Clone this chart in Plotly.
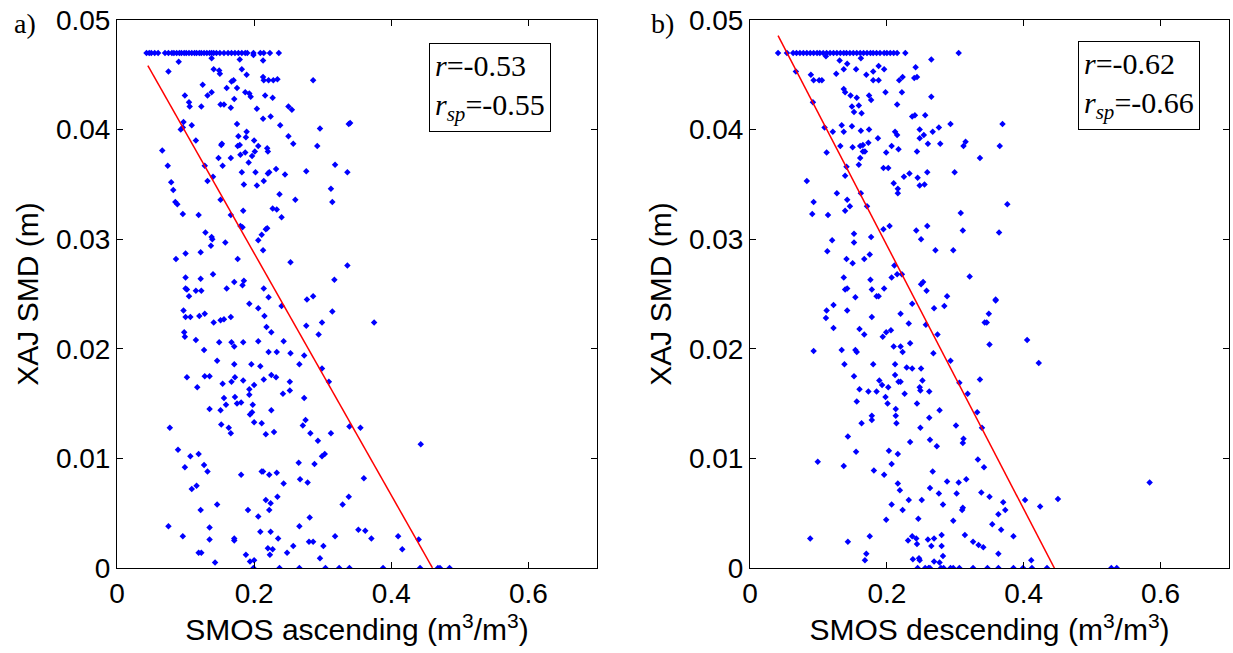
import plotly.graph_objects as go

# ---------------- data ----------------
SMD_CAP = 0.047  # model SMD upper bound (m)

# a) SMOS ascending vs XAJ SMD
asc_cap_x = [0.043, 0.047, 0.050, 0.055, 0.060, 0.070, 0.075, 0.080, 0.083, 0.087, 0.091, 0.094,
             0.098, 0.101, 0.105, 0.109, 0.113, 0.116, 0.120, 0.123, 0.127, 0.131, 0.135, 0.138,
             0.141, 0.145, 0.150, 0.156, 0.162, 0.167, 0.172, 0.177, 0.182, 0.187, 0.190, 0.199,
             0.209, 0.214, 0.223, 0.236]
asc_zero_x = [0.199, 0.237, 0.266, 0.304, 0.324, 0.339, 0.388, 0.442, 0.468, 0.471, 0.485]
asc_upper = [
    (0.090, 0.0462), (0.075, 0.0453), (0.141, 0.0455), (0.149, 0.0454), (0.150, 0.0451), (0.182, 0.0455),
    (0.189, 0.0450), (0.138, 0.0465), (0.179, 0.0464), (0.213, 0.0463), (0.199, 0.0468), (0.213, 0.0448),
    (0.214, 0.0445), (0.221, 0.0445), (0.228, 0.0445), (0.234, 0.0446), (0.286, 0.0445), (0.125, 0.0441),
    (0.167, 0.0444), (0.170, 0.0445), (0.160, 0.0438), (0.175, 0.0438), (0.187, 0.0434), (0.193, 0.0433),
    (0.195, 0.0430), (0.099, 0.0431), (0.105, 0.0425), (0.106, 0.0421), (0.123, 0.0421), (0.132, 0.0431),
    (0.138, 0.0434), (0.151, 0.0423), (0.156, 0.0423), (0.166, 0.0420), (0.171, 0.0428), (0.216, 0.0431),
    (0.227, 0.0429), (0.204, 0.0419), (0.213, 0.0410), (0.224, 0.0412), (0.250, 0.0421), (0.255, 0.0418),
    (0.238, 0.0404), (0.097, 0.0407), (0.096, 0.0402), (0.093, 0.0400), (0.109, 0.0404), (0.175, 0.0405),
    (0.115, 0.0390), (0.177, 0.0394), (0.189, 0.0398), (0.188, 0.0393), (0.176, 0.0385), (0.179, 0.0386),
    (0.153, 0.0387), (0.152, 0.0386), (0.200, 0.0390), (0.206, 0.0385), (0.066, 0.0381), (0.074, 0.0367),
    (0.148, 0.0374), (0.154, 0.0367), (0.166, 0.0374), (0.180, 0.0377), (0.187, 0.0379), (0.192, 0.0370),
    (0.197, 0.0376), (0.201, 0.0380), (0.219, 0.0383), (0.220, 0.0380), (0.182, 0.0361), (0.202, 0.0361),
    (0.222, 0.0361), (0.232, 0.0364), (0.245, 0.0359), (0.276, 0.0362), (0.292, 0.0385), (0.296, 0.0401),
    (0.250, 0.0394), (0.257, 0.0387), (0.318, 0.0368), (0.336, 0.0361), (0.338, 0.0405), (0.340, 0.0406),
    (0.079, 0.0352), (0.082, 0.0345), (0.085, 0.0334), (0.088, 0.0332), (0.096, 0.0323), (0.119, 0.0322),
    (0.128, 0.0367), (0.132, 0.0353), (0.140, 0.0357), (0.151, 0.0336), (0.185, 0.0350), (0.204, 0.0349),
    (0.214, 0.0353), (0.220, 0.0360), (0.237, 0.0341), (0.260, 0.0336), (0.312, 0.0346), (0.314, 0.0334),
    (0.227, 0.0328), (0.233, 0.0327), (0.240, 0.0320), (0.184, 0.0326), (0.166, 0.0322), (0.180, 0.0312),
    (0.183, 0.0311), (0.129, 0.0306), (0.138, 0.0302), (0.139, 0.0300), (0.137, 0.0294), (0.158, 0.0297),
    (0.206, 0.0299), (0.211, 0.0304), (0.217, 0.0309), (0.219, 0.0310), (0.213, 0.0290), (0.086, 0.0282),
    (0.100, 0.0287), (0.122, 0.0288), (0.176, 0.0282), (0.253, 0.0279), (0.336, 0.0276), (0.100, 0.0265),
    (0.122, 0.0264), (0.140, 0.0268), (0.171, 0.0261), (0.185, 0.0262), (0.183, 0.0258), (0.160, 0.0255),
    (0.100, 0.0255), (0.102, 0.0254), (0.105, 0.0248), (0.115, 0.0253), (0.123, 0.0253), (0.214, 0.0255),
    (0.221, 0.0247), (0.277, 0.0245), (0.286, 0.0248), (0.317, 0.0263),
]
asc_lower = [
    (0.240, 0.0239), (0.193, 0.0241), (0.206, 0.0237), (0.097, 0.0235), (0.100, 0.0229), (0.107, 0.0229),
    (0.120, 0.0230), (0.128, 0.0232), (0.141, 0.0224), (0.151, 0.0226), (0.156, 0.0227), (0.166, 0.0229),
    (0.215, 0.0230), (0.218, 0.0220), (0.225, 0.0215), (0.276, 0.0221), (0.299, 0.0224), (0.314, 0.0234),
    (0.294, 0.0213), (0.375, 0.0224), (0.098, 0.0215), (0.099, 0.0211), (0.115, 0.0208), (0.127, 0.0199),
    (0.149, 0.0206), (0.167, 0.0206), (0.171, 0.0202), (0.184, 0.0206), (0.206, 0.0207), (0.221, 0.0197),
    (0.233, 0.0197), (0.243, 0.0207), (0.253, 0.0196), (0.273, 0.0194), (0.266, 0.0186), (0.299, 0.0182),
    (0.309, 0.0170), (0.146, 0.0189), (0.171, 0.0186), (0.196, 0.0186), (0.209, 0.0184), (0.102, 0.0174),
    (0.128, 0.0175), (0.135, 0.0175), (0.154, 0.0168), (0.167, 0.0170), (0.172, 0.0174), (0.184, 0.0171),
    (0.214, 0.0172), (0.225, 0.0176), (0.232, 0.0174), (0.252, 0.0170), (0.252, 0.0162), (0.242, 0.0159),
    (0.200, 0.0167), (0.193, 0.0163), (0.193, 0.0158), (0.117, 0.0165), (0.156, 0.0155), (0.159, 0.0149),
    (0.172, 0.0156), (0.175, 0.0150), (0.181, 0.0151), (0.198, 0.0149), (0.197, 0.0142), (0.194, 0.0140),
    (0.273, 0.0155), (0.275, 0.0135), (0.271, 0.0130), (0.135, 0.0145), (0.151, 0.0144), (0.225, 0.0144),
    (0.200, 0.0133), (0.211, 0.0132), (0.152, 0.0131), (0.163, 0.0128), (0.166, 0.0123), (0.217, 0.0122),
    (0.229, 0.0124), (0.282, 0.0123), (0.293, 0.0116), (0.312, 0.0123), (0.339, 0.0129), (0.355, 0.0128),
    (0.443, 0.0113), (0.077, 0.0128), (0.089, 0.0108), (0.107, 0.0102), (0.119, 0.0104), (0.099, 0.0092),
    (0.127, 0.0094), (0.132, 0.0088), (0.109, 0.0072), (0.116, 0.0075), (0.122, 0.0053), (0.146, 0.0058),
    (0.181, 0.0085), (0.211, 0.0088), (0.213, 0.0088), (0.222, 0.0085), (0.233, 0.0087), (0.243, 0.0077),
    (0.234, 0.0065), (0.217, 0.0062), (0.224, 0.0059), (0.222, 0.0053), (0.191, 0.0053), (0.206, 0.0047),
    (0.265, 0.0096), (0.267, 0.0081), (0.278, 0.0078), (0.288, 0.0095), (0.299, 0.0102), (0.303, 0.0104),
    (0.281, 0.0046), (0.266, 0.0038), (0.329, 0.0058), (0.338, 0.0065), (0.360, 0.0082), (0.075, 0.0038),
    (0.096, 0.0029), (0.135, 0.0037), (0.135, 0.0026), (0.143, 0.0005), (0.119, 0.0014), (0.123, 0.0014),
    (0.171, 0.0027), (0.171, 0.0025), (0.188, 0.0012), (0.194, 0.0006), (0.200, 0.0007), (0.209, 0.0033),
    (0.224, 0.0033), (0.235, 0.0027), (0.220, 0.0018), (0.227, 0.0017), (0.223, 0.0012), (0.248, 0.0014),
    (0.257, 0.0020), (0.280, 0.0024), (0.286, 0.0024), (0.301, 0.0020), (0.296, 0.0009), (0.318, 0.0029),
    (0.352, 0.0035), (0.362, 0.0034), (0.371, 0.0027), (0.410, 0.0029), (0.416, 0.0017), (0.440, 0.0026),
]
asc_fit_intercept = 0.0508
asc_fit_slope = -0.1104
asc_fit_xrange = [0.045, 0.460]
asc_r, asc_rsp = "-0.53", "-0.55"

# b) SMOS descending vs XAJ SMD
desc_cap_x = [0.041, 0.054, 0.063, 0.068, 0.073, 0.078, 0.083, 0.088, 0.093, 0.098, 0.102, 0.107,
              0.112, 0.117, 0.122, 0.127, 0.132, 0.137, 0.141, 0.146, 0.151, 0.156, 0.161, 0.166,
              0.171, 0.176, 0.180, 0.185, 0.190, 0.196, 0.200, 0.205, 0.210, 0.215, 0.227, 0.305]
desc_zero_x = [0.245, 0.256, 0.261, 0.263, 0.279, 0.283, 0.293, 0.297, 0.306, 0.326, 0.347, 0.363,
               0.385, 0.399, 0.412, 0.434, 0.528, 0.536]
desc_upper = [
    (0.111, 0.0467), (0.131, 0.0463), (0.162, 0.0465), (0.142, 0.0460), (0.137, 0.0455), (0.155, 0.0455),
    (0.188, 0.0458), (0.196, 0.0455), (0.180, 0.0453), (0.242, 0.0457), (0.265, 0.0464), (0.067, 0.0453),
    (0.089, 0.0450), (0.093, 0.0445), (0.101, 0.0445), (0.105, 0.0445), (0.126, 0.0451), (0.170, 0.0450),
    (0.180, 0.0445), (0.188, 0.0445), (0.218, 0.0445), (0.223, 0.0448), (0.240, 0.0447), (0.244, 0.0448),
    (0.137, 0.0437), (0.139, 0.0434), (0.147, 0.0431), (0.156, 0.0429), (0.174, 0.0431), (0.177, 0.0427),
    (0.198, 0.0434), (0.222, 0.0434), (0.265, 0.0430), (0.092, 0.0425), (0.149, 0.0421), (0.159, 0.0422),
    (0.152, 0.0416), (0.163, 0.0415), (0.215, 0.0423), (0.237, 0.0412), (0.241, 0.0413), (0.256, 0.0413),
    (0.109, 0.0402), (0.121, 0.0398), (0.134, 0.0404), (0.137, 0.0398), (0.149, 0.0403), (0.162, 0.0399),
    (0.174, 0.0400), (0.187, 0.0392), (0.212, 0.0398), (0.215, 0.0395), (0.248, 0.0400), (0.254, 0.0395),
    (0.267, 0.0398), (0.276, 0.0402), (0.293, 0.0405), (0.369, 0.0405), (0.132, 0.0385), (0.150, 0.0384),
    (0.161, 0.0385), (0.165, 0.0386), (0.173, 0.0388), (0.165, 0.0380), (0.168, 0.0380), (0.207, 0.0385),
    (0.217, 0.0382), (0.199, 0.0379), (0.244, 0.0380), (0.248, 0.0392), (0.260, 0.0387), (0.278, 0.0387),
    (0.312, 0.0385), (0.315, 0.0389), (0.365, 0.0385), (0.336, 0.0374), (0.112, 0.0379), (0.161, 0.0374),
    (0.159, 0.0368), (0.141, 0.0366), (0.139, 0.0358), (0.195, 0.0365), (0.202, 0.0365), (0.210, 0.0351),
    (0.216, 0.0346), (0.216, 0.0342), (0.225, 0.0357), (0.233, 0.0360), (0.245, 0.0356), (0.248, 0.0349),
    (0.255, 0.0350), (0.259, 0.0361), (0.299, 0.0361), (0.083, 0.0353), (0.093, 0.0334), (0.091, 0.0323),
    (0.114, 0.0322), (0.127, 0.0342), (0.142, 0.0336), (0.146, 0.0330), (0.139, 0.0326), (0.162, 0.0342),
    (0.171, 0.0330), (0.308, 0.0324), (0.311, 0.0308), (0.376, 0.0332), (0.364, 0.0306), (0.195, 0.0309),
    (0.204, 0.0312), (0.152, 0.0305), (0.152, 0.0297), (0.177, 0.0302), (0.120, 0.0299), (0.113, 0.0289),
    (0.243, 0.0308), (0.250, 0.0300), (0.259, 0.0312), (0.271, 0.0290), (0.297, 0.0290), (0.175, 0.0286),
    (0.141, 0.0282), (0.150, 0.0278), (0.167, 0.0282), (0.321, 0.0266), (0.211, 0.0276), (0.215, 0.0268),
    (0.222, 0.0268), (0.207, 0.0265), (0.137, 0.0265), (0.176, 0.0263), (0.250, 0.0259), (0.253, 0.0261),
    (0.258, 0.0253), (0.139, 0.0254), (0.142, 0.0255), (0.178, 0.0254), (0.196, 0.0255), (0.154, 0.0247),
    (0.188, 0.0248), (0.185, 0.0248), (0.288, 0.0248), (0.359, 0.0245),
]
desc_lower = [
    (0.359, 0.0244), (0.237, 0.0241), (0.269, 0.0237), (0.284, 0.0239), (0.122, 0.0240), (0.112, 0.0235),
    (0.111, 0.0228), (0.142, 0.0235), (0.220, 0.0232), (0.349, 0.0232), (0.343, 0.0224), (0.346, 0.0224),
    (0.178, 0.0229), (0.232, 0.0223), (0.257, 0.0222), (0.122, 0.0219), (0.160, 0.0218), (0.167, 0.0213),
    (0.199, 0.0215), (0.206, 0.0217), (0.194, 0.0211), (0.274, 0.0213), (0.234, 0.0205), (0.220, 0.0202),
    (0.210, 0.0202), (0.223, 0.0197), (0.268, 0.0196), (0.350, 0.0204), (0.405, 0.0208), (0.093, 0.0198),
    (0.134, 0.0199), (0.154, 0.0199), (0.156, 0.0197), (0.138, 0.0186), (0.180, 0.0186), (0.212, 0.0186),
    (0.229, 0.0183), (0.237, 0.0182), (0.250, 0.0182), (0.293, 0.0189), (0.422, 0.0187), (0.152, 0.0175),
    (0.212, 0.0176), (0.189, 0.0171), (0.217, 0.0170), (0.220, 0.0170), (0.252, 0.0171), (0.336, 0.0172),
    (0.306, 0.0169), (0.193, 0.0167), (0.202, 0.0165), (0.248, 0.0165), (0.160, 0.0163), (0.173, 0.0161),
    (0.185, 0.0161), (0.226, 0.0159), (0.249, 0.0162), (0.262, 0.0161), (0.198, 0.0156), (0.318, 0.0159),
    (0.244, 0.0150), (0.156, 0.0152), (0.201, 0.0150), (0.213, 0.0145), (0.277, 0.0144), (0.332, 0.0142),
    (0.178, 0.0139), (0.213, 0.0139), (0.178, 0.0135), (0.163, 0.0132), (0.214, 0.0132), (0.262, 0.0137),
    (0.249, 0.0128), (0.301, 0.0130), (0.339, 0.0128), (0.143, 0.0120), (0.263, 0.0117), (0.312, 0.0118),
    (0.311, 0.0114), (0.234, 0.0115), (0.273, 0.0111), (0.155, 0.0106), (0.203, 0.0107), (0.216, 0.0104),
    (0.099, 0.0097), (0.137, 0.0093), (0.207, 0.0095), (0.333, 0.0099), (0.342, 0.0092), (0.181, 0.0089),
    (0.196, 0.0085), (0.267, 0.0088), (0.288, 0.0079), (0.305, 0.0078), (0.316, 0.0081), (0.584, 0.0078),
    (0.216, 0.0077), (0.219, 0.0071), (0.263, 0.0073), (0.276, 0.0068), (0.302, 0.0068), (0.338, 0.0069),
    (0.350, 0.0065), (0.370, 0.0060), (0.402, 0.0062), (0.450, 0.0063), (0.424, 0.0056), (0.207, 0.0058),
    (0.223, 0.0053), (0.232, 0.0062), (0.251, 0.0062), (0.282, 0.0058), (0.311, 0.0055), (0.310, 0.0053),
    (0.373, 0.0053), (0.363, 0.0049), (0.199, 0.0044), (0.246, 0.0045), (0.297, 0.0043), (0.354, 0.0040),
    (0.367, 0.0035), (0.385, 0.0029), (0.314, 0.0030), (0.088, 0.0027), (0.143, 0.0024), (0.175, 0.0029),
    (0.231, 0.0025), (0.237, 0.0029), (0.243, 0.0027), (0.244, 0.0022), (0.260, 0.0026), (0.269, 0.0027),
    (0.280, 0.0030), (0.280, 0.0020), (0.265, 0.0020), (0.326, 0.0024), (0.334, 0.0021), (0.341, 0.0019),
    (0.363, 0.0013), (0.170, 0.0013), (0.168, 0.0007), (0.238, 0.0008), (0.247, 0.0009), (0.248, 0.0007),
    (0.269, 0.0006), (0.277, 0.0005), (0.282, 0.0011), (0.411, 0.0007),
]
desc_fit_intercept = 0.0535
desc_fit_slope = -0.1203
desc_fit_xrange = [0.041, 0.445]
desc_r, desc_rsp = "-0.62", "-0.66"

panel_labels = ["a)", "b)"]
x_titles = ["SMOS ascending (m<sup>3</sup>/m<sup>3</sup>)", "SMOS descending (m<sup>3</sup>/m<sup>3</sup>)"]
y_title = "XAJ SMD (m)"
x_range = [0, 0.7]
y_range = [0, 0.05]


def series(cap_x, zero_x, *groups):
    xs, ys = [], []
    for x in cap_x:
        xs.append(x); ys.append(SMD_CAP)
    for g in groups:
        for x, y in g:
            xs.append(x); ys.append(y)
    for x in zero_x:
        xs.append(x); ys.append(0.0)
    return xs, ys


# the page's default body margin is removed by a post script, so the figure fills the window
W, H = 1233, 653


def fx(px):
    return px / W


def fy(py):
    return 1 - py / H


SANS = "Liberation Sans, Arial, sans-serif"
SERIF = "Liberation Serif, Times New Roman, serif"

fig = go.Figure()
panels = [
    (series(asc_cap_x, asc_zero_x, asc_upper, asc_lower), asc_fit_intercept, asc_fit_slope, asc_fit_xrange, asc_r, asc_rsp),
    (series(desc_cap_x, desc_zero_x, desc_upper, desc_lower), desc_fit_intercept, desc_fit_slope, desc_fit_xrange, desc_r, desc_rsp),
]
x_domains = [[fx(117), fx(597)], [fx(750), fx(1229)]]
y_domain = [fy(568), fy(20)]
box_pos = [(429, 43), (1078, 41)]
label_pos = [(12, 24), (649, 24)]

for i, ((xs, ys), b0, b1, xr, r, rsp) in enumerate(panels):
    xa = "x" if i == 0 else "x2"
    ya = "y" if i == 0 else "y2"
    fig.add_trace(go.Scatter(x=xs, y=ys, mode="markers", xaxis=xa, yaxis=ya,
                             marker=dict(symbol="diamond", size=5, color="#0000FF", line=dict(width=0)),
                             showlegend=False, hoverinfo="x+y"))
    fig.add_trace(go.Scatter(x=xr, y=[b0 + b1 * xr[0], b0 + b1 * xr[1]], mode="lines", xaxis=xa, yaxis=ya,
                             line=dict(color="#FF0000", width=1.5), showlegend=False))
    axis_common = dict(showline=True, linecolor="black", linewidth=1, mirror="ticks",
                       ticks="inside", ticklen=6, tickcolor="black", showgrid=False, zeroline=False,
                       automargin=False, ticklabeloverflow="allow",
                       tickfont=dict(family=SANS, size=28, color="black"))
    xkey = "xaxis" if i == 0 else "xaxis2"
    ykey = "yaxis" if i == 0 else "yaxis2"
    fig.update_layout(**{
        xkey: dict(domain=x_domains[i], range=x_range, dtick=0.2, tick0=0, anchor=ya,
                   title=dict(text=x_titles[i], font=dict(family=SANS, size=30, color="black"), standoff=4),
                   **axis_common),
        ykey: dict(domain=y_domain, range=y_range, dtick=0.01, tick0=0, anchor=xa,
                   title=dict(text=y_title, font=dict(family=SANS, size=30, color="black"), standoff=8),
                   **axis_common),
    })
    bx, by = box_pos[i]
    fig.add_annotation(xref="paper", yref="paper", x=fx(bx), y=fy(by), xanchor="left", yanchor="top",
                       text=f"<i>r</i>={r}<br><i>r<sub>sp</sub></i>={rsp}", align="left", showarrow=False,
                       font=dict(family=SERIF, size=30, color="black"),
                       bordercolor="black", borderwidth=1, borderpad=5, bgcolor="white")
    lx, ly = label_pos[i]
    fig.add_annotation(xref="paper", yref="paper", x=fx(lx), y=fy(ly), xanchor="left", yanchor="middle",
                       text=panel_labels[i], showarrow=False,
                       font=dict(family=SERIF, size=28, color="black"))

fig.update_layout(width=W, height=H, margin=dict(l=0, r=0, t=0, b=0),
                  paper_bgcolor="white", plot_bgcolor="white")
fig.write_html("out.html", config={"displayModeBar": False},
               post_script="document.body.style.margin='0px';document.body.style.overflow='hidden';")
